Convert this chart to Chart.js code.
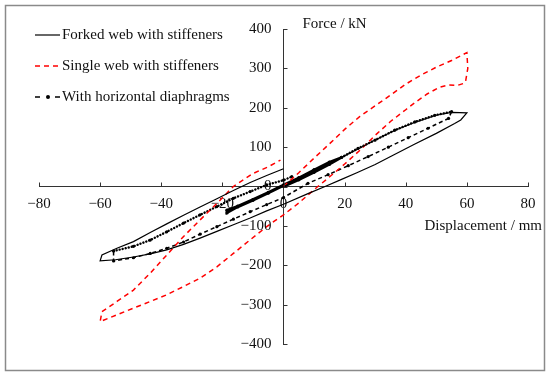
<!DOCTYPE html>
<html>
<head>
<meta charset="utf-8">
<script src="https://cdn.jsdelivr.net/npm/chart.js@4.4.0/dist/chart.umd.min.js"></script>
<style>
    html, body { margin: 0; padding: 0; background: #fff; }
</style>
</head>
<body>
<canvas id="res" width="550" height="376"></canvas>
<script>
(function () {

    // axis ranges / ticks
    var xRange = [-80, 80], xStep = 20;
    var yRange = [-400, 400], yStep = 100;
    var xTitle = 'Displacement / mm';
    var yTitle = 'Force / kN';

    var seriesNames = ['Forked web with stiffeners', 'Single web with stiffeners', 'With horizontal diaphragms'];

    // Forked web with stiffeners (solid)
    var forkX = [0, 5, 10, 15, 19, 25, 30, 36, 43, 50, 55, 60, 58, 56, 50, 43, 36, 30, 24, 19, 13.6, 8, 0, -5.5, -10.9, -16.4, -21.8, -27.3, -32.7, -38.2, -43.6, -49.1, -55, -60, -59.4, -54.5, -49.1, -43.6, -38.2, -32.7, -27.3, -21.8, -16.4, -10.9, -5.5, 0];
    var forkF = [0, 18, 38, 58, 74, 98, 118, 141, 163, 181, 188, 187, 169, 160, 135, 108, 80, 56, 35, 18, 0, -18, -45, -62, -80, -97, -114, -131, -147, -161, -171, -179, -186, -189, -174, -157, -140, -117, -95, -73, -52, -31, -10, 10, 28, 45];

    // Single web with stiffeners (red dashed)
    var singleX = [0, 2, 5, 10, 15, 20, 25, 30, 35, 40, 45, 50, 55, 60, 60.3, 59.6, 59, 57, 54, 51, 47, 43, 40, 35, 30, 25, 20, 15, 10, 5, 0, -3, -5.5, -11, -16.4, -21.8, -27.3, -32.7, -38.2, -43.6, -49.1, -54.5, -60, -59.4, -54.5, -49.1, -43.6, -38.2, -32.7, -27.3, -21.8, -16.4, -10, -5, -1];
    var singleF = [0, 14, 35, 72, 108, 145, 178, 205, 232, 260, 283, 303, 320, 340, 300, 268, 262, 257, 258, 252, 235, 213, 195, 165, 130, 92, 57, 24, -8, -42, -72, -88, -102, -136, -170, -204, -233, -254, -275, -292, -309, -326, -343, -318, -292, -263, -220, -174, -127, -85, -43, 0, 33, 50, 67];

    // With horizontal diaphragms: small cycles, then the big loop
    var diaBandX = [0, 5, 10, 15, 19, 15, 10, 5, 0, -5, -10, -15, -18.5, -18.5, -15, -10, -5, 0, 5, 10, 15, 19];
    var diaBandF = [0, 17, 36, 56, 74, 62, 42, 22, 2, -17, -35, -52, -67, -60, -50, -33, -15, 4, 22, 42, 60, 74];
    var diaLoopX = [24.4, 30, 36.4, 43, 49.5, 55, 54, 47.3, 40.8, 34.3, 27.7, 21.2, 14.6, 8, 0, -5.5, -10.9, -16.4, -21.8, -27.3, -32.7, -38.2, -43.6, -49.1, -55.6, -55.6, -49.1, -43.6, -38.2, -32.7, -27.3, -21.8, -16.4, -10.9, -5.5, 0, 2.7];
    var diaLoopF = [97, 118, 143, 164, 181, 190, 173, 148, 124, 100, 76, 53, 30, 8, -28, -46, -64, -83, -102, -121, -141, -157, -170, -181, -189, -164, -152, -136, -115, -93, -72, -51, -30, -13, 4, 16, 25];

    function pts(xs, ys) {
        return xs.map(function (x, i) { return {x: x, y: ys[i]}; });
    }

    var serif = '"Liberation Serif", "Times New Roman", serif';
    Chart.defaults.font.family = serif;
    Chart.defaults.font.size = 15;
    Chart.defaults.color = '#111';

    function fmt(v) {
        return String(v).replace('-', '\u2212');
    }

    var frame = {
        id: 'frame',
        beforeDraw: function (chart) {
            var c = chart.ctx;
            c.save();
            c.fillStyle = '#fff';
            c.fillRect(0, 0, chart.width, chart.height);
            c.strokeStyle = '#8a8a8a';
            c.lineWidth = 1.5;
            c.strokeRect(5.5, 5.5, chart.width - 11, chart.height - 11);
            c.restore();
        },
        afterDraw: function (chart) {
            var c = chart.ctx, xs = chart.scales.x, ys = chart.scales.y;
            var x0 = xs.getPixelForValue(0), y0 = ys.getPixelForValue(0);
            c.save();
            // tick marks on the inner side
            c.strokeStyle = '#333';
            c.lineWidth = 1;
            c.beginPath();
            xs.ticks.forEach(function (t) {
                var p = Math.round(xs.getPixelForValue(t.value)) + 0.5;
                c.moveTo(p, y0); c.lineTo(p, y0 - 4);
            });
            ys.ticks.forEach(function (t) {
                var p = Math.round(ys.getPixelForValue(t.value)) + 0.5;
                c.moveTo(x0, p); c.lineTo(x0 + 4, p);
            });
            c.stroke();

            c.fillStyle = '#111';
            c.font = '15px ' + serif;

            // y tick labels, left of the axis
            c.textAlign = 'right';
            c.textBaseline = 'middle';
            ys.ticks.forEach(function (t) {
                c.fillText(fmt(t.value), x0 - 12, ys.getPixelForValue(t.value));
            });

            // axis titles
            c.textBaseline = 'alphabetic';
            c.textAlign = 'left';
            c.fillText(yTitle, x0 + 19, chart.chartArea.top - 1);
            c.textAlign = 'right';
            c.fillText(xTitle, chart.chartArea.right + 14, y0 + 43);

            // legend
            c.textAlign = 'left';
            c.textBaseline = 'middle';
            chart.data.datasets.forEach(function (ds, i) {
                var y = 35 + i * 31;
                c.strokeStyle = ds.borderColor;
                c.lineWidth = ds.borderWidth;
                c.setLineDash(ds.legendDash);
                c.beginPath(); c.moveTo(35, y); c.lineTo(60, y); c.stroke();
                c.setLineDash([]);
                if (ds.pointRadius) {
                    c.fillStyle = ds.borderColor;
                    c.beginPath(); c.arc(48, y, ds.pointRadius + 0.4, 0, Math.PI * 2); c.fill();
                }
                c.fillStyle = '#111';
                c.fillText(ds.label, 62, y);
            });
            c.restore();
        }
    };

    var bandEnd = diaBandX.length - 1;

    function diaStyle(s, band, up, down) {
        if (s.p0DataIndex < bandEnd) return band;
        return s.p1.parsed.x > s.p0.parsed.x ? up : down;
    }

    var ctx = document.getElementById('res').getContext('2d');

    var options = {
        type: 'scatter',
        data: {
            datasets: [{
                label: seriesNames[0],
                data: pts(forkX, forkF),
                showLine: true,
                borderColor: '#000',
                borderWidth: 1.2,
                pointRadius: 0,
                legendDash: [],
                tension: 0
            }, {
                label: seriesNames[1],
                data: pts(singleX, singleF),
                showLine: true,
                borderColor: '#ff0000',
                borderWidth: 1.5,
                borderDash: [5, 4],
                legendDash: [5, 4],
                pointRadius: 0,
                tension: 0
            }, {
                label: seriesNames[2],
                data: pts(diaBandX.concat(diaLoopX), diaBandF.concat(diaLoopF)),
                showLine: true,
                borderColor: '#000',
                borderWidth: 1.5,
                borderDash: [4, 3],
                legendDash: [5, 15],
                pointRadius: 1.6,
                pointBackgroundColor: '#000',
                pointBorderWidth: 0,
                tension: 0,
                segment: {
                    borderDash: function (s) { return diaStyle(s, [], [0.1, 3], [4, 3]); },
                    borderWidth: function (s) { return diaStyle(s, 2.6, 2.4, 1.5); },
                    borderCapStyle: function (s) { return diaStyle(s, 'round', 'round', 'butt'); }
                }
            }]
        },
        options: {
            responsive: false,
            animation: false,
            devicePixelRatio: 1,
            layout: {padding: {left: 39, right: 22, top: 29, bottom: 32}},
            plugins: {
                legend: {display: false},
                tooltip: {enabled: false}
            },
            scales: {
                x: {
                    type: 'linear',
                    min: xRange[0], max: xRange[1],
                    position: {y: 0},
                    grid: {display: false, drawTicks: false},
                    border: {display: true, color: '#333', width: 1},
                    ticks: {stepSize: xStep, padding: 8.5, callback: fmt, maxRotation: 0}
                },
                y: {
                    type: 'linear',
                    min: yRange[0], max: yRange[1],
                    position: {x: 0},
                    grid: {display: false, drawTicks: false},
                    border: {display: true, color: '#333', width: 1},
                    ticks: {stepSize: yStep, display: false}
                }
            }
        },
        plugins: [frame]
    };

    var myChart = new Chart(ctx, options);

})();
</script>
</body>
</html>
